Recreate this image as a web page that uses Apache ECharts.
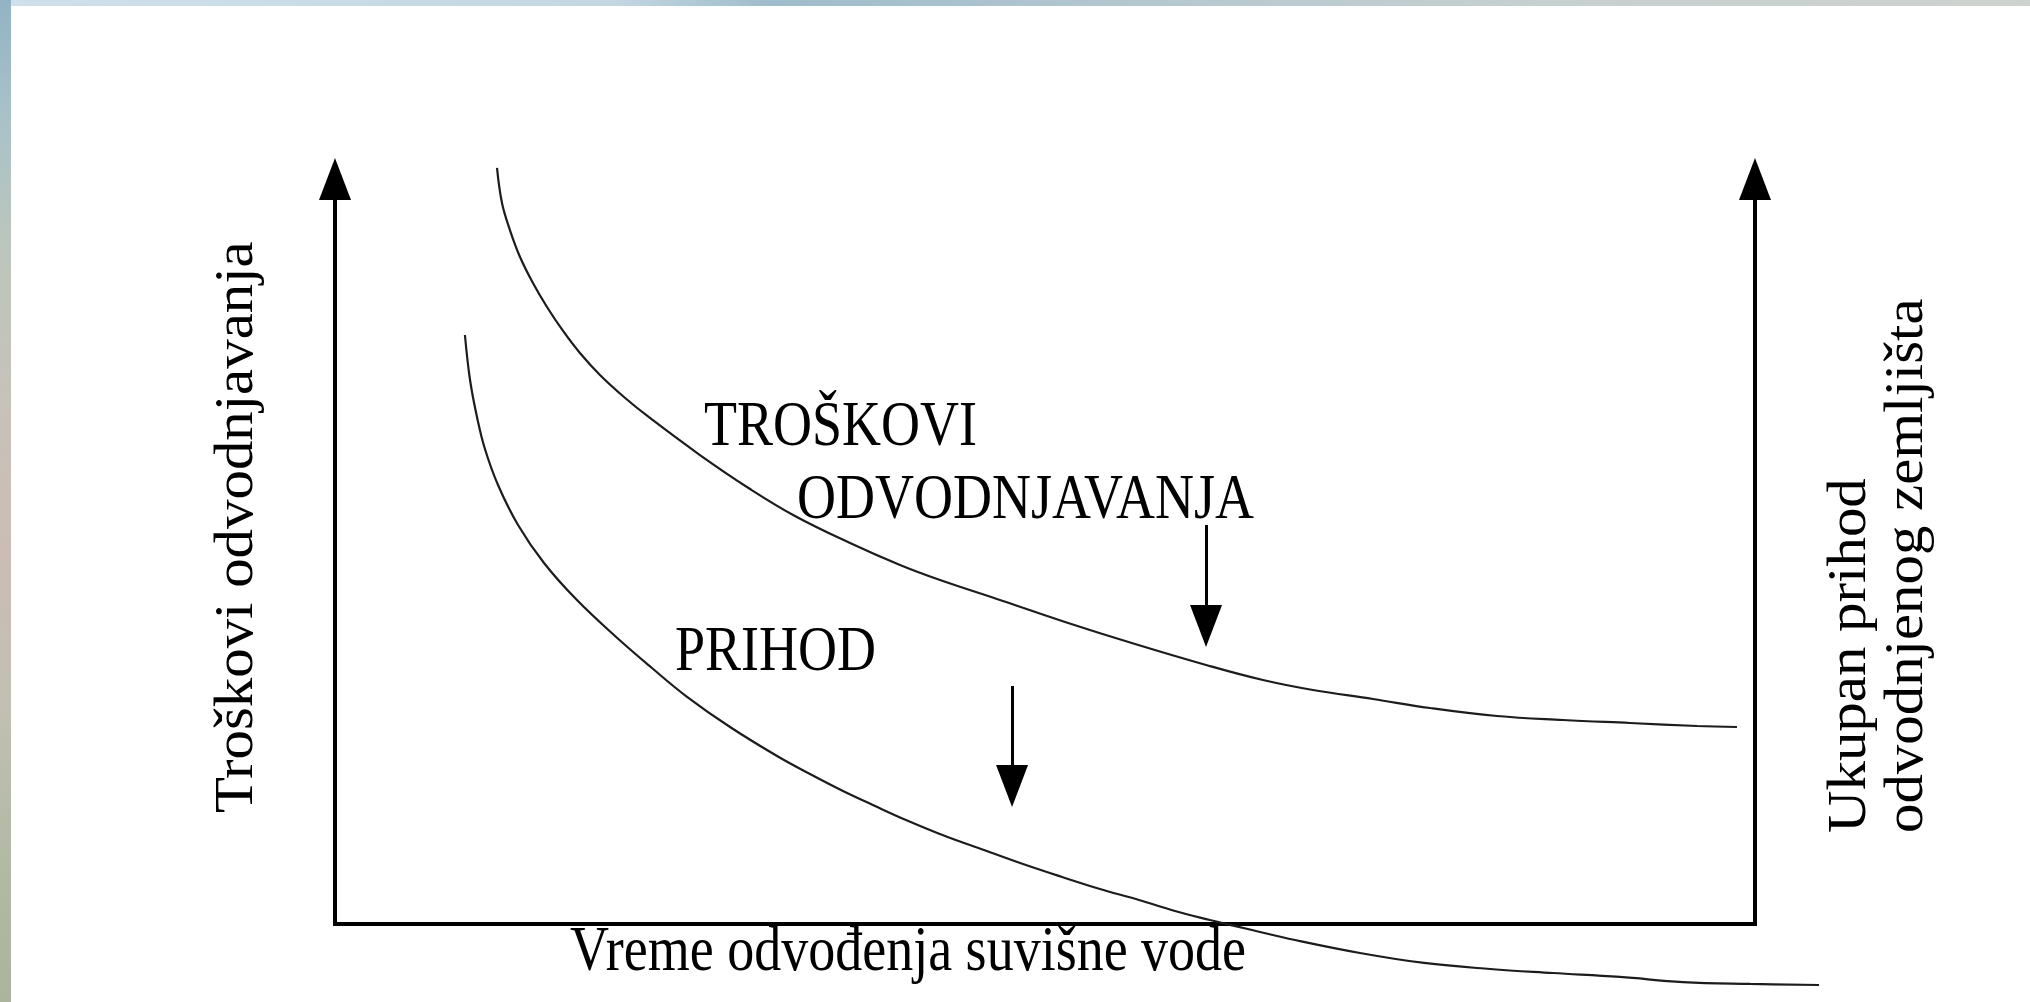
<!DOCTYPE html>
<html>
<head>
<meta charset="utf-8">
<title>Troškovi i prihod odvodnjavanja</title>
<script src="https://cdn.jsdelivr.net/npm/echarts@6/dist/echarts.min.js"></script>
<style>
  html, body { margin: 0; padding: 0; background: #ffffff; }
  #chart { width: 2030px; height: 1002px; }
</style>
</head>
<body>
<div id="chart"></div>
<script>
// Drainage cost curve (time of removing excess water vs. cost), 0–100 scale
const costTime  = [11.41, 11.76, 12.32, 13.03, 13.94, 14.93, 16.06, 17.25, 18.66, 20.35, 22.18,
                   25.70, 29.23, 32.39, 36.27, 39.79, 42.61, 47.04, 51.41, 56.34, 61.34, 65.35,
                   68.87, 73.10, 77.11, 81.83, 86.48, 91.20, 95.92, 98.73];
const costValue = [101.48, 96.78, 93.15, 89.53, 86.04, 82.82, 79.60, 76.64, 73.69, 70.74, 67.92,
                   62.95, 58.39, 54.77, 51.14, 48.19, 46.17, 43.36, 40.54, 37.58, 34.77, 32.75,
                   31.41, 30.20, 28.99, 27.92, 27.38, 26.98, 26.58, 26.44];

// Total income of drained land (runs on past the right-hand axis)
const incomeTime  = [9.15, 9.51, 10.00, 10.56, 11.48, 12.89, 14.72, 16.97, 19.72, 22.32, 24.72, 27.82,
                     31.13, 33.45, 35.63, 38.03, 40.21, 42.96, 45.70, 48.45, 51.20, 53.87, 56.62, 59.15,
                     61.62, 64.58, 67.61, 72.18, 76.69, 81.34, 85.77, 90.49, 94.93, 99.65, 104.51];
const incomeValue = [79.06, 73.02, 68.05, 63.76, 58.93, 53.56, 48.46, 43.62, 38.66, 34.36, 30.60, 26.44,
                     22.55, 20.13, 17.99, 15.84, 13.96, 11.81, 9.93, 8.05, 6.31, 4.70, 3.22, 1.74,
                     0.54, -0.81, -2.15, -3.89, -5.23, -6.04, -6.58, -7.11, -7.79, -8.05, -8.19];

// Pointer arrows: [time, value at tail, value at head]
const costArrow   = [61.34, 53.56, 40.0];
const incomeArrow = [47.68, 31.95, 18.52];

// Texts
const costLabel   = ['TROŠKOVI', 'ODVODNJAVANJA'];
const incomeLabel = ['PRIHOD'];
const xTitle      = ['Vreme odvođenja suvišne vode'];
const yLeftTitle  = ['Troškovi odvodnjavanja'];
const yRightTitle = ['Ukupan prihod', 'odvodnjenog zemljišta'];

const FONT = '54px "Liberation Serif", "Times New Roman", serif';
const INK = '#000000';
const CURVE = '#1c1c1c';

// Axis frame spans time 0–100; the plotting grid reaches a little further
// right (same pixel scale) so the income curve can run past the frame.
const FRAME = { left: 335, right: 275, top: 179, bottom: 78 };
const PLOT_MAX_TIME = 105;
const pxPerTime = (2030 - FRAME.left - FRAME.right) / 100;
const plotRight = 2030 - FRAME.left - pxPerTime * PLOT_MAX_TIME;

const toPairs = (xs, ys) => xs.map((x, i) => [x, ys[i]]);

function arrowMarkLine(a) {
  return {
    silent: true,
    animation: false,
    symbol: ['none', 'triangle'],
    symbolSize: [[32, 42], [32, 42]],
    label: { show: false },
    emphasis: { disabled: true },
    lineStyle: { type: 'solid', color: INK, width: 3, opacity: 1 },
    data: [[
      { coord: [a[0], a[1]], symbol: 'none' },
      { coord: [a[0], a[2]], symbol: 'triangle', symbolSize: [32, 42] }
    ]]
  };
}

function hText(text, x, y) {
  return {
    type: 'text', x: x, y: y, scaleY: 1.17, z: 20, silent: true,
    style: { text: text, font: FONT, fill: INK,
             align: 'left', verticalAlign: 'middle',
             textAlign: 'left', textVerticalAlign: 'middle' }
  };
}
function vText(text, x, y) {
  return {
    type: 'text', x: x, y: y, rotation: Math.PI / 2, scaleX: 1.09, z: 20, silent: true,
    style: { text: text, font: FONT, fill: INK,
             align: 'left', verticalAlign: 'middle',
             textAlign: 'left', textVerticalAlign: 'middle' }
  };
}

const axisLineStyle = (w) => ({ color: INK, width: w, cap: 'square' });
const hidden = { axisLine: { show: false }, axisTick: { show: false }, axisLabel: { show: false }, splitLine: { show: false } };

const chart = echarts.init(document.getElementById('chart'), null, { renderer: 'canvas' });

chart.setOption({
  animation: false,
  backgroundColor: '#ffffff',
  grid: [
    Object.assign({ containLabel: false, outerBoundsMode: 'none' }, FRAME),
    { left: FRAME.left, right: plotRight, top: FRAME.top, bottom: FRAME.bottom, containLabel: false, outerBoundsMode: 'none' }
  ],
  xAxis: [
    {
      gridIndex: 0, type: 'value', min: 0, max: 100,
      axisLine: { show: true, onZero: false, lineStyle: axisLineStyle(4) },
      axisTick: { show: false }, axisLabel: { show: false }, splitLine: { show: false }
    },
    Object.assign({ gridIndex: 1, type: 'value', min: 0, max: PLOT_MAX_TIME }, hidden)
  ],
  yAxis: [
    {
      gridIndex: 0, type: 'value', min: 0, max: 100, position: 'left',
      axisLine: { show: true, onZero: false, symbol: ['none', 'triangle'], symbolSize: [32, 42],
                  lineStyle: axisLineStyle(4) },
      axisTick: { show: false }, axisLabel: { show: false }, splitLine: { show: false }
    },
    {
      gridIndex: 0, type: 'value', min: 0, max: 100, position: 'right',
      axisLine: { show: true, onZero: false, symbol: ['none', 'triangle'], symbolSize: [32, 42],
                  lineStyle: axisLineStyle(4) },
      axisTick: { show: false }, axisLabel: { show: false }, splitLine: { show: false }
    },
    Object.assign({ gridIndex: 1, type: 'value', min: 0, max: 100 }, hidden)
  ],
  series: [
    {
      name: 'Troškovi odvodnjavanja',
      type: 'line', xAxisIndex: 1, yAxisIndex: 2,
      data: toPairs(costTime, costValue),
      smooth: 0.4,
      showSymbol: false, clip: false, silent: true,
      lineStyle: { color: CURVE, width: 2.2 },
      markLine: arrowMarkLine(costArrow)
    },
    {
      name: 'Prihod',
      type: 'line', xAxisIndex: 1, yAxisIndex: 2,
      data: toPairs(incomeTime, incomeValue),
      smooth: 0.4,
      showSymbol: false, clip: false, silent: true,
      lineStyle: { color: CURVE, width: 2.2 },
      markLine: arrowMarkLine(incomeArrow)
    }
  ],
  graphic: [
    // slide backdrop peeking along the top and left edges
    {
      type: 'rect', z: -10, silent: true,
      shape: { x: 0, y: 0, width: 2030, height: 6 },
      style: { fill: new echarts.graphic.LinearGradient(0, 0, 1, 0, [
        { offset: 0, color: '#cfe0ea' }, { offset: 0.3, color: '#c4d8e2' },
        { offset: 0.38, color: '#9fbccc' }, { offset: 0.55, color: '#b3c7cf' },
        { offset: 0.75, color: '#c6d0d0' }, { offset: 1, color: '#cdd2ce' }]) }
    },
    {
      type: 'rect', z: -10, silent: true,
      shape: { x: 0, y: 0, width: 11, height: 1002 },
      style: { fill: new echarts.graphic.LinearGradient(0, 0, 0, 1, [
        { offset: 0, color: '#92b4c4' }, { offset: 0.12, color: '#a9c2c8' },
        { offset: 0.25, color: '#bcc6bc' }, { offset: 0.4, color: '#c7c2ba' },
        { offset: 0.55, color: '#cbbdb4' }, { offset: 0.7, color: '#c2c0b2' },
        { offset: 0.85, color: '#b3baa6' }, { offset: 1, color: '#aab49e' }]) }
    },
    hText(costLabel[0], 704, 428),
    hText(costLabel[1], 797, 501),
    hText(incomeLabel[0], 675, 653),
    hText(xTitle[0], 570, 953),
    vText(yLeftTitle[0], 238, 813),
    vText(yRightTitle[0], 1851, 833),
    vText(yRightTitle[1], 1908, 833)
  ]
});
</script>
</body>
</html>
